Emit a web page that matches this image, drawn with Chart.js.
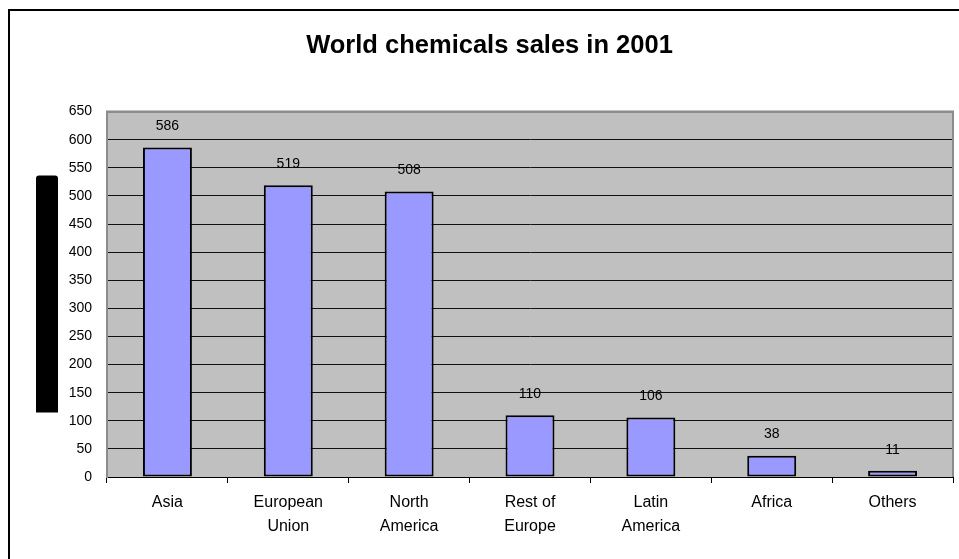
<!DOCTYPE html>
<html>
<head>
<meta charset="utf-8">
<script src="https://cdn.jsdelivr.net/npm/chart.js@4/dist/chart.umd.min.js"></script>
<style>
  html, body { margin: 0; padding: 0; background: #fff; }
  #wrap { width: 959px; height: 559px; }
</style>
</head>
<body>
<div id="wrap"><canvas id="salesChart"></canvas></div>
<script>
const regions = [["Asia"], ["European", "Union"], ["North", "America"], ["Rest of", "Europe"], ["Latin", "America"], ["Africa"], ["Others"]];
const sales = [586, 519, 508, 110, 106, 38, 11];
const yMin = 0;
const yMax = 650;
const yStep = 50;

const font = "'Liberation Sans', Arial, sans-serif";

// frame, grey plot area and the blacked-out axis title
const background = {
  id: "background",
  beforeDraw(chart) {
    const c = chart.ctx;
    const a = chart.chartArea;
    c.save();
    c.fillStyle = "#fff";
    c.fillRect(0, 0, chart.width, chart.height);
    c.strokeStyle = "#000";
    c.lineWidth = 2;
    c.strokeRect(9, 10, chart.width + 10, chart.height + 10);
    c.fillStyle = "#c0c0c0";
    c.fillRect(a.left, a.top, a.right - a.left, a.bottom - a.top);
    c.fillStyle = "#000";
    c.beginPath();
    c.roundRect(a.left - 71, a.top + 64, 22, 237, [3, 3, 0, 0]);
    c.fill();
    c.restore();
  },
  beforeDatasetsDraw(chart) {
    const c = chart.ctx;
    const a = chart.chartArea;
    c.save();
    c.strokeStyle = "#8c8c8c";
    c.lineWidth = 2;
    c.beginPath();
    c.moveTo(a.left, a.bottom);
    c.lineTo(a.left, a.top);
    c.lineTo(a.right, a.top);
    c.lineTo(a.right, a.bottom);
    c.stroke();
    c.restore();
  },
};

// value printed above each bar
const valueLabels = {
  id: "valueLabels",
  afterDatasetsDraw(chart) {
    const c = chart.ctx;
    const meta = chart.getDatasetMeta(0);
    c.save();
    c.font = "14px " + font;
    c.fillStyle = "#000";
    c.textAlign = "center";
    c.textBaseline = "middle";
    meta.data.forEach((bar, i) => {
      c.fillText(sales[i], bar.x, bar.y - 21);
    });
    c.restore();
  },
};

new Chart(document.getElementById("salesChart"), {
  type: "bar",
  data: {
    labels: regions,
    datasets: [
      {
        data: sales,
        backgroundColor: "#9999ff",
        borderColor: "#000",
        borderWidth: 2,
        borderSkipped: false,
        categoryPercentage: 1,
        barPercentage: 0.405,
      },
    ],
  },
  options: {
    responsive: true,
    maintainAspectRatio: false,
    animation: false,
    layout: {
      padding: { left: 26, right: 6, top: 0, bottom: 0 },
    },
    scales: {
      x: {
        afterFit: (scale) => {
          scale.height = 82;
        },
        grid: {
          offset: true,
          drawOnChartArea: false,
          drawTicks: true,
          tickLength: 6,
          color: "#000",
        },
        border: { color: "#000", width: 1 },
        ticks: {
          color: "#000",
          padding: 8,
          maxRotation: 0,
          autoSkip: false,
          font: { family: font, size: 16, lineHeight: 1.5 },
        },
      },
      y: {
        min: yMin,
        max: yMax,
        afterFit: (scale) => {
          scale.width = 81;
        },
        grid: {
          drawTicks: false,
          color: (ctx) => (ctx.tick && ctx.tick.value === yMax ? "#8c8c8c" : "#111"),
          lineWidth: (ctx) => (ctx.tick && ctx.tick.value === yMax ? 2 : 1),
        },
        border: { color: "#8c8c8c", width: 2 },
        ticks: {
          stepSize: yStep,
          color: "#000",
          padding: 15,
          font: { family: font, size: 14 },
        },
      },
    },
    plugins: {
      legend: { display: false },
      tooltip: { enabled: false },
      title: {
        display: true,
        text: "World chemicals sales in 2001",
        color: "#000",
        font: { family: font, size: 25.5, weight: "bold", lineHeight: 1.2 },
        padding: { top: 31, bottom: 50 },
      },
    },
  },
  plugins: [background, valueLabels],
});
</script>
</body>
</html>
